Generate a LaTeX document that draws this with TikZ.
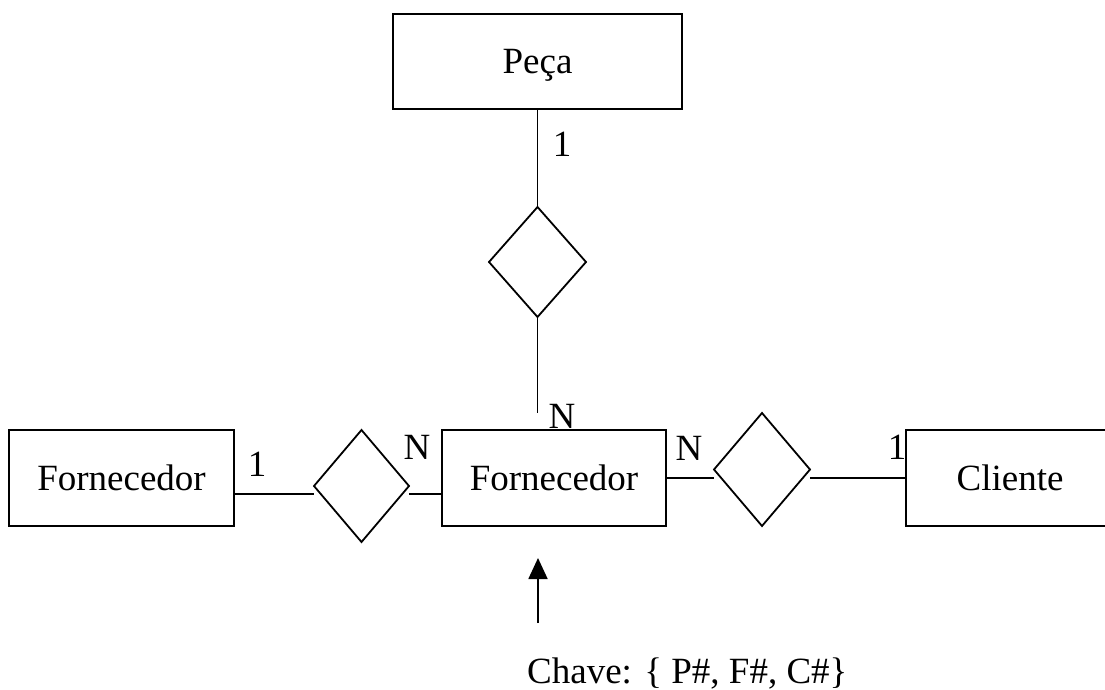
\documentclass[tikz,border=0pt]{standalone}
\usepackage{fontspec}
\setmainfont{Liberation Serif}
\usetikzlibrary{shapes.geometric,arrows.meta}
\begin{document}
\begin{tikzpicture}[x=1pt,y=-1pt,
  every node/.style={font=\fontsize{37}{44}\selectfont},
  entity/.style={draw, line width=1.8pt, rectangle, inner sep=0pt, outer sep=0pt, text height=25pt, text depth=0pt},
  rel/.style={draw, line width=1.8pt, diamond, inner sep=0pt, outer sep=0pt},
  conn/.style={line width=1.8pt},
  card/.style={inner sep=0pt}]
\useasboundingbox (0,0) rectangle (1105,690);
% entities
\node[entity, minimum width=289pt, minimum height=95pt] (peca) at (537.5,61.5) {Peça};
\node[entity, minimum width=225pt, minimum height=96pt] (lf) at (121.5,478) {Fornecedor};
\node[entity, minimum width=224pt, minimum height=96pt] (cf) at (554,478) {Fornecedor};
\node[entity, minimum width=208pt, minimum height=96pt] (cl) at (1010,478) {Cliente};
% relationships
\node[rel, minimum width=97pt, minimum height=110pt] (td) at (537.5,262) {};
\node[rel, minimum width=95pt, minimum height=112pt] (ld) at (361.5,486) {};
\node[rel, minimum width=96pt, minimum height=113pt] (rd) at (762,469.5) {};
% free ends
\coordinate (nend) at (537.5,413);
\coordinate (atail) at (538,623);
\coordinate (atip) at (538,558);
% connectors
\draw[conn] (peca.south) -- (td.north);
\draw[conn] (td.south) -- (nend);
\draw[conn] ([yshift=-16pt]lf.east) -- ([yshift=-8pt]ld.west);
\draw[conn] ([yshift=-8pt]ld.east) -- ([yshift=-16pt]cf.west);
\draw[conn] (cf.east) -- ([yshift=-8.5pt]rd.west);
\draw[conn] ([yshift=-8.5pt]rd.east) -- (cl.west);
\draw[conn, -{Triangle[length=21pt,width=19pt]}] (atail) -- (atip);
% cardinalities
\node[card] (c1) at (562,144) {1};
\node[card] (c2) at (562,416) {N};
\node[card] (c3) at (257,464) {1};
\node[card] (c4) at (417,447) {N};
\node[card] (c5) at (689,448) {N};
\node[card] (c6) at (897,447) {1};
% key
\node[anchor=base west, inner sep=0pt] (chave) at (527,683) {Chave: \{ P\#, F\#, C\#\}};
\end{tikzpicture}
\end{document}
